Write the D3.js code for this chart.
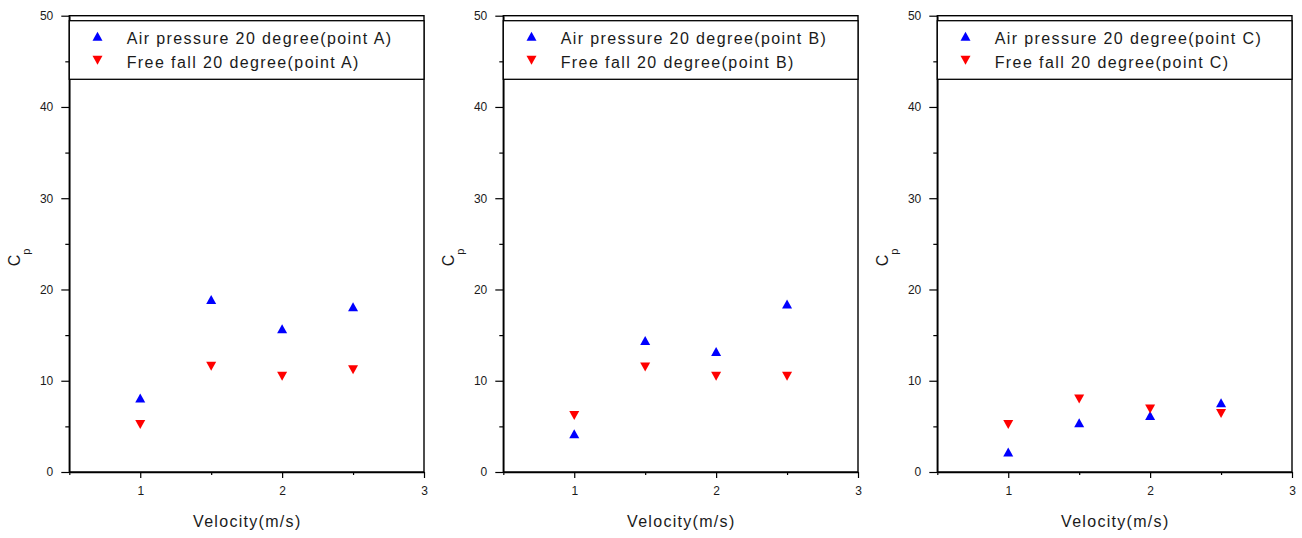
<!DOCTYPE html>
<html>
<head>
<meta charset="utf-8">
<script src="https://cdn.jsdelivr.net/npm/d3@7"></script>
<style>
  html, body { margin: 0; padding: 0; background: #fff; overflow: hidden; }
  svg { display: block; }
  text { font-family: "Liberation Sans", Arial, sans-serif; fill: #1a1a1a; }
</style>
</head>
<body>
<svg id="chart" width="1302" height="538"></svg>
<script>
// data
const velocity = [1, 1.5, 2, 2.5];
const pointNames = ["A", "B", "C"];
const airA = [8.1, 18.9, 15.7, 18.1];
const fallA = [5.2, 11.6, 10.5, 11.2];
const airB = [4.2, 14.4, 13.2, 18.4];
const fallB = [6.2, 11.5, 10.5, 10.5];
const airC = [2.2, 5.4, 6.2, 7.6];
const fallC = [5.2, 8.0, 6.9, 6.4];
const yMajor = [0, 10, 20, 30, 40, 50];
const yMinor = [5, 15, 25, 35, 45];
const xMajor = [1, 2, 3];
const xMinor = [0.5, 1.5, 2.5];

const airSeries = [airA, airB, airC];
const fallSeries = [fallA, fallB, fallC];

const svg = d3.select("#chart");
const panelStep = 434;
const margin = { left: 69.3, top: 15.7 };
const innerWidth = 354.7;
const innerHeight = 456.3;

const xScale = d3.scaleLinear().domain([0.5, 3]).range([0, innerWidth]);
const yScale = d3.scaleLinear().domain([0, 50]).range([innerHeight, 0]);

// triangle centred on its bounding box, like Origin draws it
function tri(up) {
  const w = 10, h = 9;
  return up
    ? `M0,${-h / 2}L${w / 2},${h / 2}L${-w / 2},${h / 2}Z`
    : `M0,${h / 2}L${w / 2},${-h / 2}L${-w / 2},${-h / 2}Z`;
}

// Origin spreads its letters a bit; stretch the spacing to the measured width
function spread(sel, extra) {
  sel.each(function () {
    const len = this.getComputedTextLength();
    const n = this.textContent.length;
    d3.select(this).attr("textLength", len + extra * (n - 1)).attr("lengthAdjust", "spacing");
  });
}

pointNames.forEach((name, i) => {
  const panel = svg.append("g").attr("transform", `translate(${i * panelStep},0)`);
  const g = panel.append("g").attr("transform", `translate(${margin.left},${margin.top})`);

  // frame (top and right)
  g.append("rect")
    .attr("width", innerWidth).attr("height", innerHeight)
    .attr("fill", "none").attr("stroke", "#000").attr("stroke-width", 1.4);

  // y axis
  g.append("g")
    .call(d3.axisLeft(yScale).tickValues(yMajor).tickFormat(d3.format("d"))
      .tickSize(8).tickPadding(8).tickSizeOuter(0));
  const yMin = g.append("g")
    .call(d3.axisLeft(yScale).tickValues(yMinor).tickSize(4));
  yMin.select(".domain").remove();
  yMin.selectAll("text").remove();

  // x axis
  g.append("g").attr("transform", `translate(0,${innerHeight})`)
    .call(d3.axisBottom(xScale).tickValues(xMajor).tickFormat(d3.format("d"))
      .tickSize(6).tickPadding(8.5).tickSizeOuter(0));
  const xMin = g.append("g").attr("transform", `translate(0,${innerHeight})`)
    .call(d3.axisBottom(xScale).tickValues(xMinor).tickSize(3));
  xMin.select(".domain").remove();
  xMin.selectAll("text").remove();

  g.selectAll(".domain").attr("stroke-width", 1.5);
  g.selectAll(".tick line").attr("stroke-width", 1.2);
  g.selectAll(".tick text")
    .style("font-family", '"Liberation Sans", Arial, sans-serif')
    .style("font-size", "12px")
    .attr("fill", "#111");

  // legend
  const leg = g.append("g");
  leg.append("rect")
    .attr("x", 0).attr("y", 5).attr("width", innerWidth).attr("height", 58.6)
    .attr("fill", "#fff").attr("stroke", "#000").attr("stroke-width", 1.3);
  const legendItems = [
    { label: `Air pressure 20 degree(point ${name})`, color: "#0000ff", up: true, y: 22.5 },
    { label: `Free fall 20 degree(point ${name})`, color: "#ff0000", up: false, y: 46.5 }
  ];
  legendItems.forEach(d => {
    leg.append("path")
      .attr("d", tri(d.up))
      .attr("transform", `translate(28.2,${d.y - 2})`)
      .attr("fill", d.color);
    leg.append("text")
      .attr("x", 57.4).attr("y", d.y)
      .attr("dominant-baseline", "central")
      .style("font-size", "16px")
      .text(d.label)
      .call(spread, 1.4);
  });

  // points
  const air = airSeries[i].map((v, j) => ({ x: velocity[j], y: v }));
  const fall = fallSeries[i].map((v, j) => ({ x: velocity[j], y: v }));

  g.selectAll(".air").data(air).enter().append("path")
    .attr("class", "air")
    .attr("d", tri(true))
    .attr("transform", d => `translate(${xScale(d.x)},${yScale(d.y)})`)
    .attr("fill", "#0000ff");

  g.selectAll(".fall").data(fall).enter().append("path")
    .attr("class", "fall")
    .attr("d", tri(false))
    .attr("transform", d => `translate(${xScale(d.x)},${yScale(d.y)})`)
    .attr("fill", "#ff0000");

  // axis titles
  panel.append("text")
    .attr("x", margin.left + innerWidth / 2)
    .attr("y", 527)
    .attr("text-anchor", "middle")
    .style("font-size", "16px")
    .text("Velocity(m/s)")
    .call(spread, 1.3);

  const yTitle = panel.append("text")
    .attr("transform", "translate(19.5,257.5) rotate(-90)")
    .attr("text-anchor", "middle")
    .style("font-size", "16px");
  yTitle.append("tspan").text("C");
  yTitle.append("tspan").attr("dy", 10.5).style("font-size", "11px").text("p");
});
</script>
</body>
</html>
